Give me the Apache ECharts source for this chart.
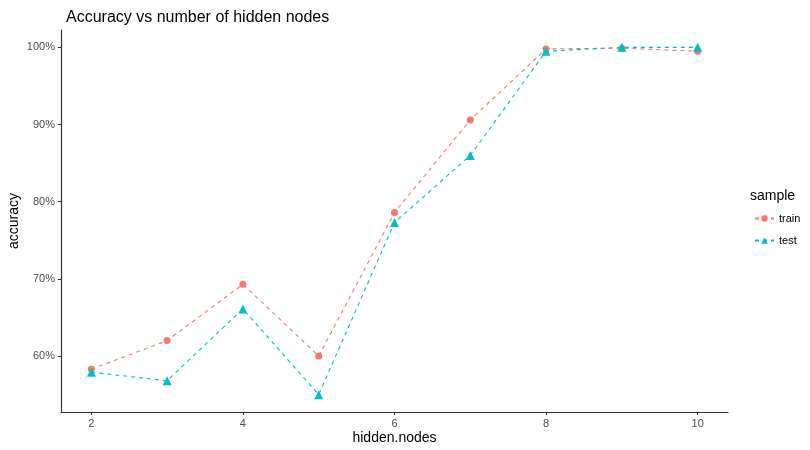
<!DOCTYPE html>
<html><head><meta charset="utf-8">
<script src="https://cdn.jsdelivr.net/npm/echarts@6/dist/echarts.min.js"></script>
<style>html,body{margin:0;padding:0;background:#fff}#c{width:810px;height:450px}</style>
</head><body><div id="c"></div>
<script>
const hiddenNodes = [2, 3, 4, 5, 6, 7, 8, 9, 10];
const trainAcc = [58.3, 62.0, 69.3, 60.0, 78.6, 90.6, 99.8, 99.9, 99.5];
const testAcc = [57.9, 56.8, 66.1, 55.0, 77.3, 86.0, 99.5, 100.0, 100.0];
const xTicks = [2, 4, 6, 8, 10];
const yTicks = [60, 70, 80, 90, 100];

const FONT = '"Liberation Sans", Arial, Helvetica, sans-serif';
const chart = echarts.init(document.getElementById('c'));
const pair = arr => hiddenNodes.map((x, i) => [x, arr[i]]);
chart.setOption({
  animation: false,
  textStyle: { fontFamily: FONT },
  title: { text: 'Accuracy vs number of hidden nodes', left: 61, top: 5,
    textStyle: { fontSize: 16, fontWeight: 'normal', color: '#000', fontFamily: FONT } },
  grid: { left: 61, right: 82, top: 30, bottom: 38, containLabel: false, outerBoundsMode: 'none' },
  xAxis: {
    type: 'value', min: 1.6, max: 10.4,
    name: 'hidden.nodes', nameLocation: 'middle', nameGap: 19, nameMoveOverlap: false,
    nameTextStyle: { fontSize: 14, color: '#000', fontFamily: FONT },
    axisLine: { show: true, onZero: false, lineStyle: { color: '#333', width: 1.2 } },
    axisTick: { show: true, length: 3, customValues: xTicks, lineStyle: { color: '#333' } },
    axisLabel: { customValues: xTicks, color: '#4d4d4d', fontSize: 11, margin: 6, fontFamily: FONT },
    splitLine: { show: false }
  },
  yAxis: {
    type: 'value', min: 52.75, max: 102.25,
    name: 'accuracy', nameLocation: 'middle', nameGap: 40, nameMoveOverlap: false,
    nameTextStyle: { fontSize: 14, color: '#000', fontFamily: FONT },
    axisLine: { show: true, onZero: false, lineStyle: { color: '#333', width: 1.2 } },
    axisTick: { show: true, length: 3, customValues: yTicks, lineStyle: { color: '#333' } },
    axisLabel: { customValues: yTicks, formatter: '{value}%', color: '#4d4d4d', fontSize: 11, margin: 6, fontFamily: FONT },
    splitLine: { show: false }
  },
  graphic: [{ type: 'text', left: 750, top: 189,
    style: { text: 'sample', fontSize: 14, fill: '#000', fontFamily: FONT } }],
  legend: {
    orient: 'vertical', left: 749, top: 208, itemWidth: 19, itemHeight: 8, itemGap: 11,
    textStyle: { fontSize: 11, color: '#000', fontFamily: FONT },
    data: ['train', 'test']
  },
  series: [
    { name: 'train', type: 'line', data: pair(trainAcc), symbol: 'circle', symbolSize: 7,
      itemStyle: { color: '#F8766D' }, lineStyle: { color: '#F8766D', width: 1.1, type: [4, 4] } },
    { name: 'test', type: 'line', data: pair(testAcc), symbol: 'triangle', symbolSize: 9,
      itemStyle: { color: '#00BFC4' }, lineStyle: { color: '#00BFC4', width: 1.1, type: [4, 4] } }
  ]
});
</script></body></html>
